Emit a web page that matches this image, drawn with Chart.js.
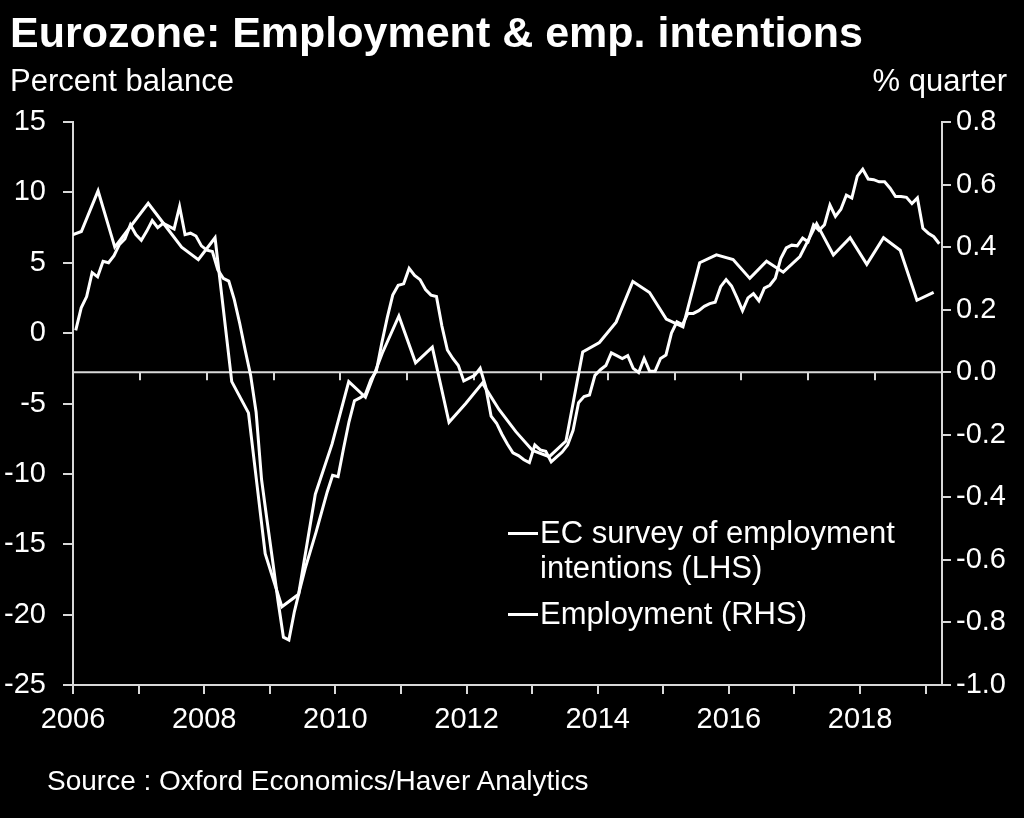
<!DOCTYPE html>
<html>
<head>
<meta charset="utf-8">
<script src="https://cdn.jsdelivr.net/npm/chart.js@4.4.1/dist/chart.umd.min.js"></script>
<style>
  html, body { margin: 0; padding: 0; background: #000; }
  body { width: 1024px; height: 818px; position: relative; overflow: hidden; font-family: "Liberation Sans", Arial, sans-serif; color: #fff; }
  canvas { position: absolute; left: 0; top: 0; }
  .txt { position: absolute; white-space: nowrap; line-height: 1; color: #fff; }
  .mark { position: absolute; height: 3px; background: #fff; }
</style>
</head>
<body>
<canvas id="c" width="1024" height="818"></canvas>
<div class="txt" style="left:10px; top:11px; font-size:43px; font-weight:bold;">Eurozone: Employment &amp; emp. intentions</div>
<div class="txt" style="left:10px; top:65px; font-size:31px;">Percent balance</div>
<div class="txt" style="right:17px; top:65px; font-size:31px;">% quarter</div>
<div class="mark" style="left:508px; top:532px; width:30px;"></div>
<div class="txt" style="left:540px; top:517px; font-size:31px;">EC survey of employment</div>
<div class="txt" style="left:540px; top:552px; font-size:31px;">intentions (LHS)</div>
<div class="mark" style="left:508px; top:613px; width:30px;"></div>
<div class="txt" style="left:540px; top:598px; font-size:31px;">Employment (RHS)</div>
<div class="txt" style="left:47px; top:767px; font-size:28px;">Source : Oxford Economics/Haver Analytics</div>
<script>
// Monthly, Jan 2006 - Mar 2019 (percent balance, LHS)
const ecSurvey = [
  0.2, 1.8, 2.6, 4.3, 4.0, 5.1, 5.0, 5.5, 6.3, 6.7, 7.7, 7.0,
  6.6, 7.25, 8.0, 7.5, 7.8, 7.6, 7.4, 9.0, 7.0, 7.1, 6.9, 6.2,
  5.9, 5.8, 4.5, 3.9, 3.7, 2.4, 0.7, -1.2, -3.0, -5.6, -10.4, -13.3,
  -16.1, -19.0, -21.6, -21.8, -19.8, -18.2, -16.7, -15.4, -14.1, -12.7, -11.3, -10.1,
  -10.2, -8.2, -6.3, -4.8, -4.6, -4.35, -3.3, -2.7, -0.7, 1.1, 2.7, 3.4,
  3.5, 4.6, 4.1, 3.8, 3.1, 2.7, 2.6, 0.5, -1.2, -1.8, -2.3, -3.4,
  -3.2, -3.0, -2.5, -3.8, -5.9, -6.4, -7.2, -7.9, -8.5, -8.7, -9.0, -9.2,
  -7.95, -8.3, -8.4, -9.15, -8.8, -8.45, -7.95, -6.9, -4.95, -4.5, -4.4, -3.0,
  -2.6, -2.3, -1.4, -1.6, -1.8, -1.6, -2.5, -2.8, -1.8, -2.7, -2.7, -1.8,
  -1.55, 0.0, 0.8, 0.6, 1.4, 1.4, 1.6, 1.9, 2.1, 2.2, 3.3, 3.8,
  3.35, 2.5, 1.6, 2.5, 2.8, 2.3, 3.2, 3.4, 3.9, 5.3, 6.05, 6.25,
  6.2, 6.75, 6.5, 7.7, 7.3, 7.7, 9.1, 8.3, 8.8, 9.8, 9.6, 11.15,
  11.65, 10.95, 10.9, 10.75, 10.75, 10.3, 9.7, 9.7, 9.65, 9.2, 9.6, 7.45,
  7.1, 6.85, 6.35
];
// Quarterly, 2005Q4 - 2018Q4 (% quarter, RHS)
const employment = [
  0.43,
  0.45, 0.58, 0.40, 0.47,
  0.54, 0.47, 0.40, 0.36,
  0.43, -0.03, -0.13, -0.58,
  -0.75, -0.71, -0.39, -0.23,
  -0.03, -0.08, 0.06, 0.18,
  0.03, 0.08, -0.16, -0.10,
  -0.035, -0.12, -0.19, -0.25,
  -0.27, -0.22, 0.065, 0.095,
  0.16, 0.29, 0.255, 0.17,
  0.145, 0.35, 0.375, 0.36,
  0.30, 0.355, 0.32, 0.37,
  0.475, 0.375, 0.43, 0.345,
  0.43, 0.39, 0.23, 0.255
];
const yearTicks = [2006, 2007, 2008, 2009, 2010, 2011, 2012, 2013, 2014, 2015, 2016, 2017, 2018, 2019];
const yearLabels = ['2006', '', '2008', '', '2010', '', '2012', '', '2014', '', '2016', '', '2018', ''];
const leftTicks = [-25, -20, -15, -10, -5, 0, 5, 10, 15];
const rightTicks = [-1.0, -0.8, -0.6, -0.4, -0.2, 0.0, 0.2, 0.4, 0.6, 0.8];
const rightLabels = ['-1.0', '-0.8', '-0.6', '-0.4', '-0.2', '0.0', '0.2', '0.4', '0.6', '0.8'];

const FONT = '"Liberation Sans", Arial, sans-serif';
const AXIS = '#d9d9d9';
const nMonths = ecSurvey.length;          // 159 monthly categories
const nQuarters = employment.length - 1;  // 52 quarterly categories

const ecData = ecSurvey.map((v, i) => ({ x: i + 0.5, y: v }));
const empData = employment.map((v, i) => ({ x: i - 0.5, y: v }));

const zeroLine = {
  id: 'zeroLine',
  beforeDatasetsDraw(chart) {
    const { ctx, chartArea } = chart;
    const yR = chart.scales.y1, xQ = chart.scales.x2;
    const y0 = yR.getPixelForValue(0);
    ctx.save();
    ctx.strokeStyle = AXIS;
    ctx.lineWidth = 2;
    ctx.beginPath();
    ctx.moveTo(chartArea.left, y0);
    ctx.lineTo(chartArea.right, y0);
    for (let q = 4; q < nQuarters; q += 4) {
      const x = Math.round(xQ.getPixelForValue(q));
      ctx.moveTo(x, y0);
      ctx.lineTo(x, y0 + 8);
    }
    ctx.stroke();
    ctx.restore();
  }
};

new Chart(document.getElementById('c'), {
  type: 'line',
  data: {
    datasets: [
      { label: 'EC survey of employment intentions (LHS)', data: ecData, xAxisID: 'x', yAxisID: 'y',
        borderColor: '#ffffff', borderWidth: 3, pointRadius: 0, tension: 0, fill: false },
      { label: 'Employment (RHS)', data: empData, xAxisID: 'x2', yAxisID: 'y1',
        borderColor: '#ffffff', borderWidth: 3, pointRadius: 0, tension: 0, fill: false }
    ]
  },
  options: {
    responsive: false,
    animation: false,
    devicePixelRatio: 1,
    layout: { padding: { top: 122, left: 0, right: 0, bottom: 0 } },
    plugins: { legend: { display: false }, tooltip: { enabled: false }, title: { display: false } },
    scales: {
      x: {
        type: 'linear', position: 'bottom', min: 0, max: nMonths,
        afterBuildTicks: s => { s.ticks = yearTicks.map(y => ({ value: (y - 2006) * 12 })); },
        afterFit: s => { s.height = 133; },
        ticks: {
          autoSkip: false, maxRotation: 0, minRotation: 0, padding: 9,
          color: '#ffffff', font: { family: FONT, size: 29 },
          callback: (v) => yearLabels[yearTicks.indexOf(2006 + Math.round(v / 12))]
        },
        grid: { display: true, drawOnChartArea: false, drawTicks: true, tickLength: 9, color: AXIS, lineWidth: 2 },
        border: { display: true, color: AXIS, width: 2 }
      },
      x2: {
        type: 'linear', position: 'top', min: 0, max: nQuarters, display: false
      },
      y: {
        type: 'linear', position: 'left', min: -25, max: 15,
        afterBuildTicks: s => { s.ticks = leftTicks.map(v => ({ value: v })); },
        afterFit: s => { s.width = 73; },
        ticks: { color: '#ffffff', padding: 17, font: { family: FONT, size: 29 }, callback: v => String(v) },
        grid: { display: true, drawOnChartArea: false, drawTicks: true, tickLength: 10, color: AXIS, lineWidth: 2 },
        border: { display: true, color: AXIS, width: 2 }
      },
      y1: {
        type: 'linear', position: 'right', min: -1.0, max: 0.8,
        afterBuildTicks: s => { s.ticks = rightTicks.map(v => ({ value: v })); },
        afterFit: s => { s.width = 82; },
        ticks: { color: '#ffffff', padding: 5, font: { family: FONT, size: 29 },
          callback: v => rightLabels[rightTicks.findIndex(t => Math.abs(t - v) < 1e-6)] },
        grid: { display: true, drawOnChartArea: false, drawTicks: true, tickLength: 9, color: AXIS, lineWidth: 2 },
        border: { display: true, color: AXIS, width: 2 }
      }
    }
  },
  plugins: [zeroLine]
});
</script>
</body>
</html>
